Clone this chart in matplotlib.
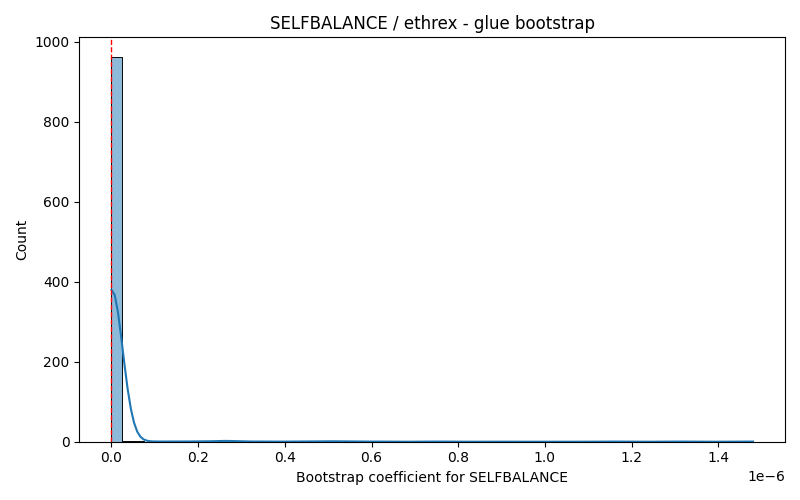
import numpy as np
import matplotlib
matplotlib.use("Agg")
import matplotlib.pyplot as plt
import seaborn as sns

# bootstrap coefficient values (units of 1e-6) and how often each occurs
coef_values = [0.000, 0.001, 0.002, 0.004, 0.008, 0.015, 0.022,
               0.035, 0.060,
               0.12, 0.18, 0.21, 0.26, 0.27, 0.33, 0.42, 0.48, 0.52,
               0.61, 0.75, 0.88, 1.02, 1.15, 1.31, 1.48]
coef_counts = [703, 120, 60, 40, 20, 12, 8,
               1, 1,
               1, 1, 1, 3, 2, 1, 1, 2, 2,
               1, 1, 1, 1, 1, 1, 1]

samples = np.repeat(np.array(coef_values) * 1e-6, coef_counts)

fig, ax = plt.subplots(figsize=(8, 5), dpi=100)
sns.histplot(samples, bins=60, kde=True, ax=ax)
ax.axvline(0, color="red", linestyle="--", linewidth=1)

ax.set_title("SELFBALANCE / ethrex - glue bootstrap")
ax.set_xlabel("Bootstrap coefficient for SELFBALANCE")
ax.set_ylabel("Count")

plt.tight_layout()
plt.savefig("out.png")
